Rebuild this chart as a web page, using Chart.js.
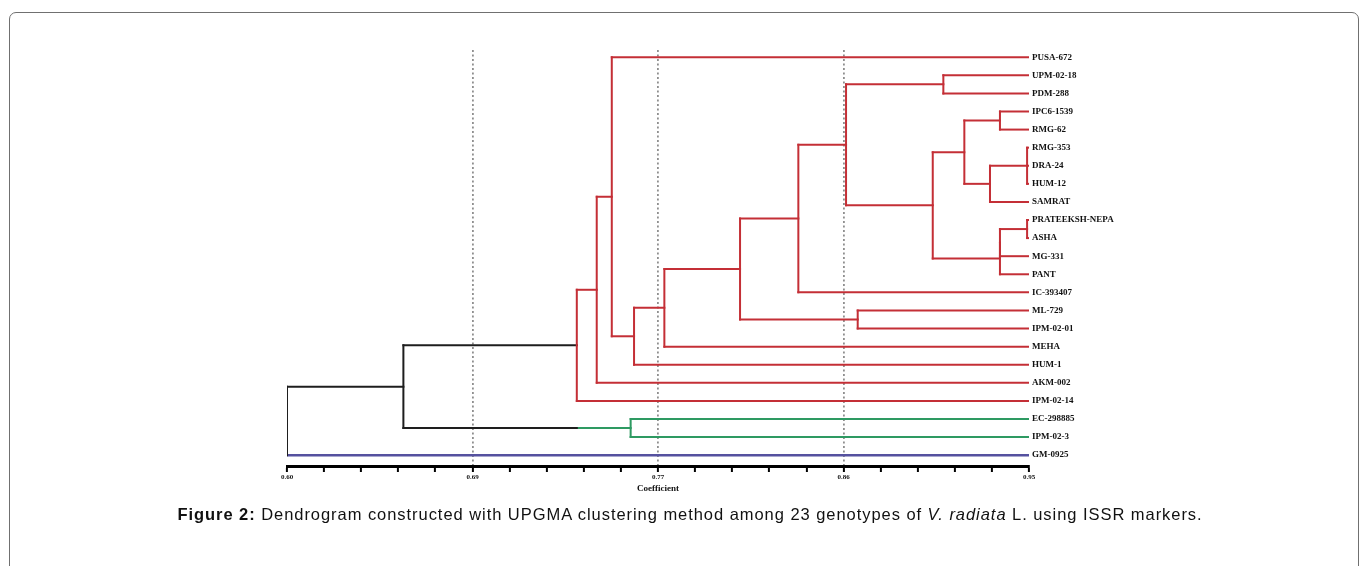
<!DOCTYPE html>
<html>
<head>
<meta charset="utf-8">
<script src="https://cdn.jsdelivr.net/npm/chart.js@4.4.1/dist/chart.umd.min.js"></script>
<style>
  html, body { margin: 0; padding: 0; background: #fff; }
  #wrap { position: relative; width: 1368px; height: 566px; overflow: hidden; }
  #frame {
    position: absolute; left: 9px; top: 12px; width: 1350px; height: 600px;
    border: 1px solid #707070; border-radius: 7px; box-sizing: border-box;
  }
  #dendro { position: absolute; left: 0; top: 0; }
  #caption {
    position: absolute; left: 0; width: 1380px; top: 505px; text-align: center;
    font-family: "Liberation Sans", Arial, sans-serif; font-size: 16.5px; letter-spacing: 0.95px; color: #111;
  }
</style>
</head>
<body>
<div id="wrap">
  <div id="frame"></div>
  <canvas id="dendro" width="1368" height="566"></canvas>
  <div id="caption"><b>Figure 2:</b> Dendrogram constructed with UPGMA clustering method among 23 genotypes of <i>V. radiata</i> L. using ISSR markers.</div>
</div>
<script>
// --- dati ---
const leaves = [
  'PUSA-672', 'UPM-02-18', 'PDM-288', 'IPC6-1539', 'RMG-62', 'RMG-353', 'DRA-24',
  'HUM-12', 'SAMRAT', 'PRATEEKSH-NEPA', 'ASHA', 'MG-331', 'PANT', 'IC-393407',
  'ML-729', 'IPM-02-01', 'MEHA', 'HUM-1', 'AKM-002', 'IPM-02-14', 'EC-298885',
  'IPM-02-3', 'GM-0925'
];
// 0 = rosso, 1 = verde, 2 = blu
const leafGroup = [0,0,0,0,0,0,0,0,0,0,0,0,0,0,0,0,0,0,0,0,1,1,2];
const groupColors = ['#c42f36', '#2e9a62', '#55519f'];

// fusioni UPGMA: figli (foglie o 'mN') e coefficiente
const mergeChildren = [
  ['UPM-02-18', 'PDM-288'],            // m0
  ['IPC6-1539', 'RMG-62'],             // m1
  ['RMG-353', 'DRA-24', 'HUM-12'],     // m2
  ['m2', 'SAMRAT'],                    // m3
  ['m1', 'm3'],                        // m4
  ['PRATEEKSH-NEPA', 'ASHA'],          // m5
  ['m5', 'MG-331'],                    // m6
  ['m6', 'PANT'],                      // m7
  ['m4', 'm7'],                        // m8
  ['m0', 'm8'],                        // m9
  ['m9', 'IC-393407'],                 // m10
  ['ML-729', 'IPM-02-01'],             // m11
  ['m10', 'm11'],                      // m12
  ['m12', 'MEHA'],                     // m13
  ['m13', 'HUM-1'],                    // m14
  ['PUSA-672', 'm14'],                 // m15
  ['m15', 'AKM-002'],                  // m16
  ['m16', 'IPM-02-14'],                // m17
  ['EC-298885', 'IPM-02-3'],           // m18
  ['m17', 'm18'],                      // m19
  ['m19', 'GM-0925']                   // m20
];
const mergeHeights = [
  0.9096, 0.9363, 0.9491, 0.9316, 0.9195, 0.9491, 0.9363, 0.9363, 0.9046, 0.8637,
  0.8412, 0.8692, 0.8137, 0.7780, 0.7637, 0.7532, 0.7461, 0.7367, 0.7621, 0.6549, 0.6000
];
const colourCut = 0.7367;   // sotto questo valore i rami sono neri
const leafEnd = 0.95;
const axisLabels = ['0.60', '0.69', '0.77', '0.86', '0.95'];

// --- costruzione dei segmenti ---
const nodes = {};
leaves.forEach((name, i) => {
  nodes[name] = { x: leafEnd, y: i, group: leafGroup[i], leaf: true };
});
const segments = [];
function addSeg(x1, y1, x2, y2, color, width) {
  segments.push({ pts: [{ x: x1, y: y1 }, { x: x2, y: y2 }], color, width: width || 2 });
}
mergeChildren.forEach((kids, k) => {
  const h = mergeHeights[k];
  const kidNodes = kids.map(name => nodes[name]);
  const ys = kidNodes.map(n => n.y);
  const yMid = ys.reduce((a, b) => a + b, 0) / ys.length;
  const group = kidNodes[0].group;
  const coloured = h >= colourCut - 1e-6;
  addSeg(h, Math.min(...ys), h, Math.max(...ys), coloured ? groupColors[group] : '#1e1e1e');
  kidNodes.forEach(n => {
    const w = n.group === 2 ? 2.5 : 2;
    if (n.leaf || coloured) {
      addSeg(h, n.y, n.x, n.y, groupColors[n.group], w);
    } else {
      addSeg(h, n.y, Math.min(colourCut, n.x), n.y, '#1e1e1e');
      if (n.x > colourCut) addSeg(colourCut, n.y, n.x, n.y, groupColors[n.group], w);
    }
  });
  nodes['m' + k] = { x: h, y: yMid, group: group, leaf: false };
});

const datasets = segments.map(s => ({
  data: s.pts,
  showLine: true,
  borderColor: s.color,
  borderWidth: s.width,
  borderCapStyle: 'square',
  pointRadius: 0,
  fill: false,
  tension: 0
}));

const ctx = document.getElementById('dendro').getContext('2d');
const chart = new Chart(ctx, {
  type: 'scatter',
  data: { datasets },
  options: {
    responsive: false,
    animation: false,
    events: [],
    layout: { padding: { left: 287, right: 139, top: 50, bottom: 72 } },
    plugins: { legend: { display: false }, tooltip: { enabled: false } },
    scales: {
      x: {
        type: 'linear',
        min: 0.6,
        max: 0.95,
        afterFit: scale => { scale.height = 28; },
        border: { display: true, color: '#000', width: 3, dash: [2, 2.5] },
        grid: {
          drawOnChartArea: true,
          drawTicks: true,
          tickLength: 6,
          tickWidth: 2,
          tickColor: '#000',
          lineWidth: 1.8,
          color: c => (c.index % 5 === 0 && c.index > 0 && c.index < 20) ? '#8f8f8f' : 'rgba(0,0,0,0)'
        },
        ticks: {
          stepSize: 0.0175,
          autoSkip: false,
          maxRotation: 0,
          padding: 1,
          color: '#111',
          font: { family: '"Liberation Serif", serif', size: 7, weight: 'bold' },
          callback: (v, i) => (i % 5 === 0 ? axisLabels[i / 5] : '')
        },
        title: {
          display: true,
          text: 'Coefficient',
          color: '#111',
          padding: { top: 0, bottom: 0 },
          font: { family: '"Liberation Serif", serif', size: 9, weight: 'bold' }
        }
      },
      y: {
        type: 'linear',
        position: 'right',
        reverse: true,
        min: -0.4,
        max: 22.6,
        afterFit: scale => { scale.width = 200; },
        afterBuildTicks: scale => { scale.ticks = leaves.map((_, i) => ({ value: i })); },
        border: { display: false },
        grid: { display: false, drawTicks: false },
        ticks: {
          autoSkip: false,
          padding: 3,
          color: '#111',
          font: { family: '"Liberation Serif", serif', size: 9, weight: 'bold' },
          callback: v => leaves[v]
        }
      }
    }
  }
});
</script>
</body>
</html>
